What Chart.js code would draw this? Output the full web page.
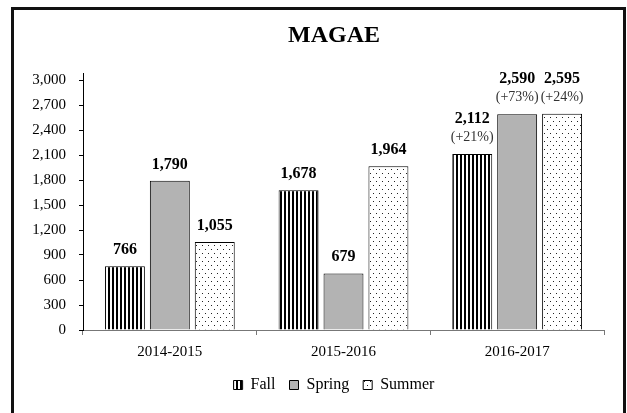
<!DOCTYPE html>
<html><head><meta charset="utf-8">
<script src="https://cdn.jsdelivr.net/npm/chart.js@4.4.0/dist/chart.umd.min.js"></script>
<style>html,body{margin:0;padding:0;background:#fff;overflow:hidden}#wrap{width:627px;height:413px;position:relative}</style>
</head><body><div id="wrap"><canvas id="c" width="627" height="413"></canvas></div>
<script>
const categories = ['2014-2015', '2015-2016', '2016-2017'];
const seriesNames = ['Fall', 'Spring', 'Summer'];
const fallValues = [766, 1678, 2112];
const springValues = [1790, 679, 2590];
const summerValues = [1055, 1964, 2595];
const fallChange = ['', '', '(+21%)'];
const springChange = ['', '', '(+73%)'];
const summerChange = ['', '', '(+24%)'];
const yTickValues = [0, 300, 600, 900, 1200, 1500, 1800, 2100, 2400, 2700, 3000];
const yMax = 3084;

const SERIF = "'Liberation Serif', 'Times New Roman', serif";

function fmt(v) {
  return String(v).replace(/\B(?=(\d{3})+(?!\d))/g, ',');
}

function makePattern(kind) {
  const c = document.createElement('canvas');
  const ctx = c.getContext('2d');
  if (kind === 'stripes') {
    c.width = 4; c.height = 4;
    ctx.fillStyle = '#fff'; ctx.fillRect(0, 0, 4, 4);
    ctx.fillStyle = '#000'; ctx.fillRect(0, 0, 2, 4);
  } else {
    c.width = 6; c.height = 8;
    ctx.fillStyle = '#fff'; ctx.fillRect(0, 0, 6, 8);
    ctx.fillStyle = '#222';
    ctx.fillRect(1, 1, 1, 1);
    ctx.fillRect(4, 5, 1, 1);
  }
  return document.getElementById('c').getContext('2d').createPattern(c, 'repeat');
}

const fallFill = makePattern('stripes');
const summerFill = makePattern('dots');
const springFill = '#b3b3b3';

const framePlugin = {
  id: 'frame',
  afterLayout(chart) {
    // let the y tick labels extend into the left padding without being clipped
    chart.scales.y.left = 0;
  },
  beforeDraw(chart) {
    const ctx = chart.ctx;
    ctx.save();
    ctx.fillStyle = '#fff';
    ctx.fillRect(0, 0, chart.width, chart.height);
    ctx.strokeStyle = '#111';
    ctx.lineWidth = 3;
    ctx.beginPath();
    ctx.moveTo(12.5, 420);
    ctx.lineTo(12.5, 8.5);
    ctx.lineTo(624.5, 8.5);
    ctx.lineTo(624.5, 420);
    ctx.stroke();
    ctx.restore();
  }
};

const changeArrays = [fallChange, springChange, summerChange];

const labelPlugin = {
  id: 'barLabels',
  afterDatasetsDraw(chart) {
    const ctx = chart.ctx;
    ctx.save();
    ctx.textAlign = 'center';
    ctx.textBaseline = 'alphabetic';
    chart.data.datasets.forEach((ds, di) => {
      const meta = chart.getDatasetMeta(di);
      meta.data.forEach((el, i) => {
        const v = ds.data[i];
        const ch = changeArrays[di][i];
        const x = el.x, top = el.y;
        if (ch) {
          ctx.font = 'normal 14px ' + SERIF;
          ctx.fillStyle = '#333';
          ctx.fillText(ch, x, top - 13);
          ctx.font = 'bold 16px ' + SERIF;
          ctx.fillStyle = '#000';
          ctx.fillText(fmt(v), x, top - 31);
        } else {
          ctx.font = 'bold 16px ' + SERIF;
          ctx.fillStyle = '#000';
          ctx.fillText(fmt(v), x, top - 12);
        }
      });
    });
    ctx.restore();
  }
};

const common = { borderColor: '#000', borderWidth: 1, categoryPercentage: 0.776, barPercentage: 0.889 };

new Chart(document.getElementById('c'), {
  type: 'bar',
  data: {
    labels: categories,
    datasets: [
      Object.assign({ label: seriesNames[0], data: fallValues, backgroundColor: fallFill }, common),
      Object.assign({ label: seriesNames[1], data: springValues, backgroundColor: springFill }, common),
      Object.assign({ label: seriesNames[2], data: summerValues, backgroundColor: summerFill }, common)
    ]
  },
  options: {
    responsive: false,
    animation: false,
    devicePixelRatio: 1,
    layout: { padding: { left: 64, right: 23, top: 0, bottom: 10 } },
    plugins: {
      title: {
        display: true,
        text: 'MAGAE',
        color: '#000',
        font: { family: SERIF, size: 24, weight: 'bold' },
        padding: { top: 21, bottom: 23.2 }
      },
      legend: {
        display: true,
        position: 'bottom',
        labels: {
          boxWidth: 9,
          boxHeight: 9,
          padding: 14,
          color: '#000',
          font: { family: SERIF, size: 16 }
        }
      },
      tooltip: { enabled: false }
    },
    scales: {
      x: {
        type: 'category',
        offset: true,
        grid: { offset: true, drawOnChartArea: false, drawTicks: true, tickLength: 5, color: '#777' },
        border: { color: '#777', width: 1 },
        ticks: { color: '#000', padding: 8, font: { family: SERIF, size: 15 } },
        afterFit(s) { s.height = 33; }
      },
      y: {
        min: 0,
        max: yMax,
        grid: { drawOnChartArea: false, drawTicks: true, tickLength: 4, color: '#000' },
        border: { color: '#000', width: 1 },
        ticks: {
          color: '#000',
          padding: 13,
          font: { family: SERIF, size: 15 },
          callback: (v) => fmt(v)
        },
        afterBuildTicks(s) { s.ticks = yTickValues.map(v => ({ value: v })); },
        afterFit(s) { s.width = 19; }
      }
    }
  },
  plugins: [framePlugin, labelPlugin]
});
</script>
</body></html>
